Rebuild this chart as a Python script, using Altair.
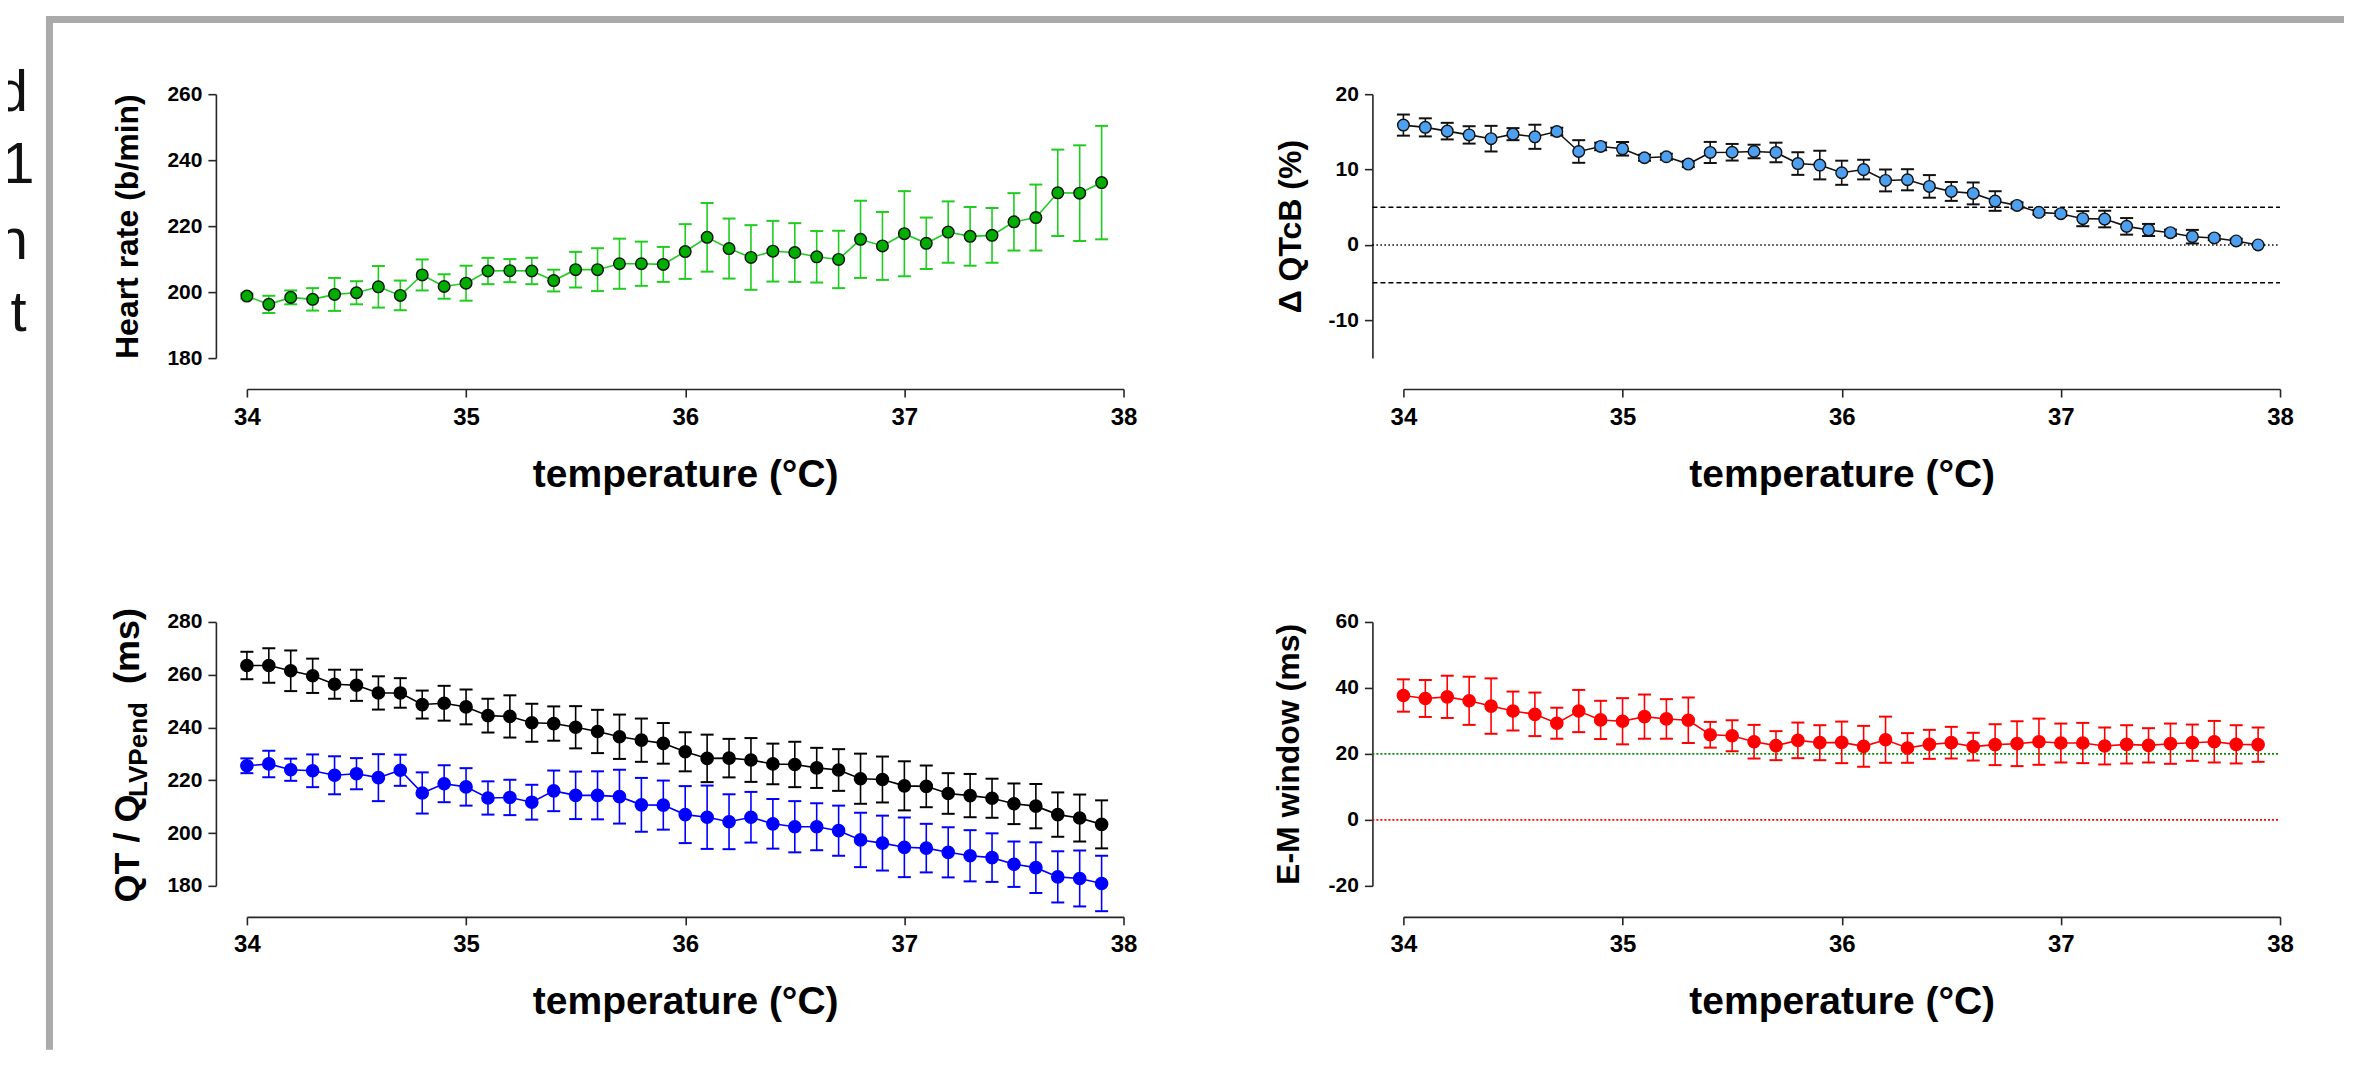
import altair as alt
import pandas as pd

# ---------------- data ----------------
temperature = [34.0, 34.1, 34.2, 34.3, 34.4, 34.5, 34.6, 34.7, 34.8, 34.9,
               35.0, 35.1, 35.2, 35.3, 35.4, 35.5, 35.6, 35.7, 35.8, 35.9,
               36.0, 36.1, 36.2, 36.3, 36.4, 36.5, 36.6, 36.7, 36.8, 36.9,
               37.0, 37.1, 37.2, 37.3, 37.4, 37.5, 37.6, 37.7, 37.8, 37.9]

hr_mean = [198.8, 196.3, 198.4, 197.8, 199.3, 199.8, 201.6, 199.0, 205.2, 201.7,
           202.7, 206.4, 206.5, 206.4, 203.5, 206.8, 206.8, 208.6, 208.6, 208.4,
           212.3, 216.6, 213.2, 210.5, 212.4, 212.0, 210.7, 209.9, 216.0, 214.0,
           217.7, 214.8, 218.2, 216.9, 217.2, 221.3, 222.6, 230.1, 230.0, 233.2]
hr_sem = [0.8, 2.6, 2.1, 3.4, 5.0, 3.5, 6.3, 4.5, 4.7, 3.7,
          5.3, 4.0, 3.5, 4.0, 3.3, 5.4, 6.5, 7.6, 6.7, 5.3,
          8.3, 10.4, 9.1, 9.8, 9.2, 8.9, 7.8, 8.7, 11.7, 10.3,
          12.9, 7.8, 9.3, 8.9, 8.3, 8.7, 10.0, 13.1, 14.5, 17.2]

qtcb_mean = [15.9, 15.6, 15.1, 14.6, 14.1, 14.7, 14.35, 15.05, 12.4, 13.07,
             12.76, 11.57, 11.7, 10.73, 12.27, 12.3, 12.4, 12.27, 10.8, 10.6,
             9.58, 10.0, 8.56, 8.65, 7.77, 7.1, 6.84, 5.83, 5.25, 4.33,
             4.15, 3.49, 3.44, 2.47, 1.99, 1.63, 1.1, 0.93, 0.53, 0.0]
qtcb_sem = [1.4, 1.2, 1.1, 1.15, 1.7, 0.8, 1.6, 0.5, 1.5, 0.5,
            0.9, 0.4, 0.4, 0.4, 1.4, 1.1, 0.9, 1.3, 1.5, 1.9,
            1.6, 1.3, 1.45, 1.4, 1.5, 1.25, 1.45, 1.3, 0.4, 0.3,
            0.3, 1.0, 1.1, 1.1, 0.8, 0.4, 0.9, 0.3, 0.3, 0.0]

qt_mean = [263.5, 263.5, 261.5, 259.6, 256.4, 256.0, 253.1, 253.1, 248.7, 249.2,
           247.8, 244.5, 244.2, 241.8, 241.5, 240.1, 238.5, 236.5, 235.2, 234.0,
           230.8, 228.3, 228.4, 227.7, 226.2, 226.0, 224.7, 223.9, 220.6, 220.3,
           217.9, 217.7, 215.0, 214.2, 213.2, 211.1, 210.2, 207.0, 205.7, 203.3]
qt_sem = [5.2, 6.5, 7.7, 6.5, 5.5, 5.9, 6.3, 5.6, 5.3, 6.6,
          6.6, 6.4, 8.0, 7.2, 6.5, 8.0, 8.2, 8.4, 8.2, 7.7,
          7.4, 9.0, 7.3, 8.3, 7.7, 8.6, 7.6, 7.9, 9.5, 8.7,
          9.3, 7.9, 7.7, 8.2, 7.4, 7.7, 8.4, 8.4, 8.9, 9.1]

qlv_mean = [225.5, 226.2, 224.0, 223.6, 221.9, 222.5, 221.0, 223.8, 215.2, 218.7,
            217.5, 213.3, 213.5, 211.7, 216.0, 214.3, 214.3, 213.8, 210.7, 210.6,
            207.0, 206.0, 204.3, 206.0, 203.5, 202.4, 202.4, 200.9, 197.4, 196.2,
            194.6, 194.3, 192.7, 191.4, 190.7, 188.2, 186.9, 183.4, 182.8, 180.9]
qlv_sem = [2.8, 5.0, 4.2, 6.2, 7.2, 5.9, 8.9, 5.9, 7.8, 7.0,
           7.1, 6.3, 6.7, 6.6, 7.7, 9.0, 9.1, 10.2, 10.2, 9.3,
           10.8, 12.0, 10.4, 9.6, 9.4, 9.7, 8.9, 9.5, 10.3, 10.4,
           11.3, 9.2, 9.5, 9.7, 9.2, 8.6, 9.6, 9.7, 10.6, 10.5]

em_mean = [37.7, 36.8, 37.3, 36.1, 34.5, 33.0, 32.0, 29.3, 33.0, 30.3,
           29.9, 31.3, 30.6, 30.2, 25.8, 25.5, 23.7, 22.5, 24.1, 23.4,
           23.5, 22.3, 24.3, 21.8, 22.9, 23.4, 22.2, 22.8, 23.1, 23.7,
           23.3, 23.3, 22.4, 22.9, 22.6, 23.1, 23.4, 23.7, 22.9, 22.8]
em_sem = [4.9, 5.6, 6.4, 7.3, 8.4, 5.9, 6.6, 4.7, 6.4, 5.8,
          7.0, 6.7, 6.0, 6.9, 3.9, 4.7, 5.1, 4.4, 5.4, 5.3,
          6.3, 6.2, 7.0, 4.5, 4.4, 4.8, 4.2, 6.2, 6.8, 7.0,
          5.9, 6.1, 5.6, 5.8, 5.2, 6.1, 5.5, 6.3, 5.8, 5.2]

x_ticks = [34, 35, 36, 37, 38]
qtcb_limits = [5, -5]
em_limit_green = [20]
em_limit_red = [0]
side_letters = ["d", "1", "n", "t"]

# ---------------- styling ----------------
FONT = "Liberation Sans"
AXC = "#262626"
W, H = 877, 264
OFF = 31
one = pd.DataFrame({"k": [0]})


def frame(mean, sem):
    return pd.DataFrame({"t": temperature, "m": mean, "e": sem})


xscale = alt.Scale(domain=[34, 38], nice=False, zero=False)


def xaxis():
    return alt.Axis(values=x_ticks, format="d", title="temperature (°C)", offset=OFF,
                    grid=False, domainColor=AXC, domainWidth=1.6, tickColor=AXC,
                    tickWidth=1.6, tickSize=8, labelFont=FONT, labelFontSize=24,
                    labelFontWeight="bold", labelColor="black", labelPadding=8,
                    labelFlush=False, titleFont=FONT, titleFontSize=39,
                    titleFontWeight="bold", titleColor="black",
                    titleBaseline="alphabetic", titleY=97)


def yaxis(values, title, title_x):
    return alt.Axis(values=values, title=title, offset=OFF, grid=False,
                    domainColor=AXC, domainWidth=1.6, tickColor=AXC, tickWidth=1.6,
                    tickSize=8, labelFont=FONT, labelFontSize=21,
                    labelFontWeight="bold", labelColor="black", labelPadding=6,
                    labelFlush=False, labelExpr="'' + datum.value",
                    titleFont=FONT, titleFontSize=32, titleFontWeight="bold",
                    titleColor="black", titleAngle=270, titleAlign="center",
                    titleBaseline="alphabetic", titleX=title_x, titleY=H / 2)


def series(df, yscale, yax, fill, linec, stroke, size, cap=13):
    base = alt.Chart(df).encode(x=alt.X("t:Q", scale=xscale, axis=xaxis()))
    ycalc = base.transform_calculate(lo="datum.m - datum.e", hi="datum.m + datum.e")
    line = base.mark_line(color=linec, strokeWidth=1.6).encode(
        y=alt.Y("m:Q", scale=yscale, axis=yax))
    bars = ycalc.mark_rule(color=linec, strokeWidth=1.6).encode(
        y=alt.Y("lo:Q", scale=yscale, axis=yax), y2="hi:Q")
    cap_lo = ycalc.mark_tick(color=linec, orient="horizontal", size=cap, thickness=2,
                             opacity=1).encode(y=alt.Y("lo:Q", scale=yscale, axis=yax))
    cap_hi = ycalc.mark_tick(color=linec, orient="horizontal", size=cap, thickness=2,
                             opacity=1).encode(y=alt.Y("hi:Q", scale=yscale, axis=yax))
    pts = base.mark_point(shape="circle", filled=True, fill=fill, stroke=stroke,
                          strokeWidth=1.4, size=size, opacity=1).encode(
        y=alt.Y("m:Q", scale=yscale, axis=yax))
    return [line, bars, cap_lo, cap_hi, pts]


def hline(values, yscale, yax, color, dash, width=1.6):
    return alt.Chart(pd.DataFrame({"m": values})).mark_rule(
        color=color, strokeDash=dash, strokeWidth=width).encode(
        y=alt.Y("m:Q", scale=yscale, axis=yax), x=alt.value(-OFF), x2=alt.value(W))


# ---------------- panel 1: heart rate ----------------
ys1 = alt.Scale(domain=[180, 260], nice=False, zero=False)
ya1 = yaxis([180, 200, 220, 240, 260], "Heart rate (b/min)", -78)
p1_layers = series(frame(hr_mean, hr_sem), ys1, ya1, "#00ad00", "#1fcc1f", "#111111", 135)

# slide decorations: grey frame and clipped text at far left
deco = [
    alt.Chart(one).mark_rule(color="#aaaaaa", strokeWidth=7).encode(
        x=alt.value(-201), x2=alt.value(2098), y=alt.value(-74.8)),
    alt.Chart(one).mark_rule(color="#aaaaaa", strokeWidth=7).encode(
        x=alt.value(-197.5), y=alt.value(-74.8), y2=alt.value(956)),
]
letter_pos = [(-219, 16.7), (-212.4, 88.7), (-219, 164.7), (-220.5, 236.7)]
for ch, (lx, ly) in zip(side_letters, letter_pos):
    deco.append(alt.Chart(one).mark_text(text=ch, font=FONT, fontSize=58, align="right",
                                         baseline="alphabetic", color="#111111").encode(
        x=alt.value(lx), y=alt.value(ly)))

p1 = alt.layer(*p1_layers, *deco).properties(width=W, height=H)

# ---------------- panel 2: delta QTcB ----------------
ys2 = alt.Scale(domain=[-15, 20], nice=False, zero=False)
ya2 = yaxis([-10, 0, 10, 20], "Δ QTcB (%)", -72)
p2 = alt.layer(
    hline(qtcb_limits, ys2, ya2, "black", [5, 3]),
    hline([0], ys2, ya2, "black", [1.5, 2.5]),
    *series(frame(qtcb_mean, qtcb_sem), ys2, ya2, "#4d9ff0", "#111111", "#111111", 135),
).properties(width=W, height=H)

# ---------------- panel 3: QT / QLVPend ----------------
ys3 = alt.Scale(domain=[180, 280], nice=False, zero=False)
ya3 = yaxis([180, 200, 220, 240, 260, 280], "", -78)
qt_title = [
    alt.Chart(one).mark_text(text="QT / Q", font=FONT, fontSize=36, fontWeight="bold",
                             angle=270, align="left", baseline="alphabetic",
                             color="black").encode(x=alt.value(-108), y=alt.value(280.7)),
    alt.Chart(one).mark_text(text="LVPend", font=FONT, fontSize=26, fontWeight="bold",
                             angle=270, align="left", baseline="alphabetic",
                             color="black").encode(x=alt.value(-100), y=alt.value(175)),
    alt.Chart(one).mark_text(text="(ms)", font=FONT, fontSize=36, fontWeight="bold",
                             angle=270, align="right", baseline="alphabetic",
                             color="black").encode(x=alt.value(-108), y=alt.value(-14)),
]
p3 = alt.layer(
    *series(frame(qt_mean, qt_sem), ys3, ya3, "#000000", "#000000", "#000000", 150),
    *series(frame(qlv_mean, qlv_sem), ys3, ya3, "#0000ff", "#0000ff", "#0000ff", 150),
    *qt_title,
).properties(width=W, height=H)

# ---------------- panel 4: E-M window ----------------
ys4 = alt.Scale(domain=[-20, 60], nice=False, zero=False)
ya4 = yaxis([-20, 0, 20, 40, 60], "E-M window (ms)", -74)
p4 = alt.layer(
    hline(em_limit_green, ys4, ya4, "#008a00", [2, 2]),
    hline(em_limit_red, ys4, ya4, "#ff0000", [2, 2]),
    *series(frame(em_mean, em_sem), ys4, ya4, "#ff0000", "#ff0000", "#ff0000", 150),
).properties(width=W, height=H)

chart = alt.concat(p1, p2, p3, p4, columns=2, spacing={"row": 264, "column": 280},
                   bounds="flush").properties(
    padding={"left": -13, "top": 7, "right": 0, "bottom": 0},
    background="white",
).configure_view(stroke=None)

chart.save("out.html", embed_options={"renderer": "svg", "actions": False})
